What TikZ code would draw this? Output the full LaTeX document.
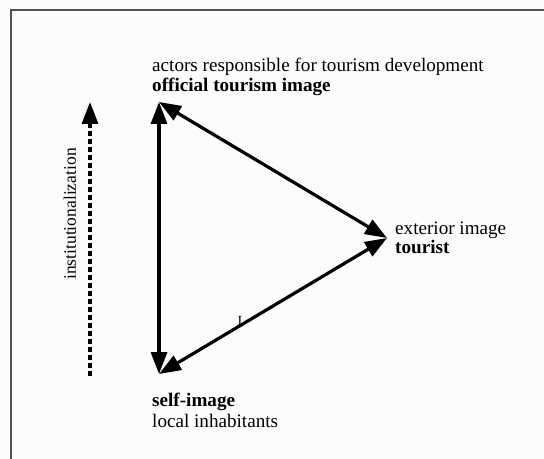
\documentclass[tikz,border=0pt]{standalone}
\usepackage{fontspec}
\setmainfont{Liberation Serif}
\usetikzlibrary{arrows.meta}
\definecolor{bgc}{HTML}{FCFCFC}
\definecolor{framec}{HTML}{505050}
\tikzset{
  tip/.tip={Triangle[length=22bp,width=16bp]},
  edge/.style={line width=3.2bp, tip-tip},
  lbl/.style={anchor=base west, inner sep=0pt, font=\fontsize{19.2}{22}\selectfont},
  blbl/.style={lbl, font=\fontsize{19.2}{22}\selectfont\bfseries},
}
\begin{document}
\begin{tikzpicture}[x=1bp,y=-1bp]
\fill[bgc] (0,0) rectangle (544,459);
\useasboundingbox (0,0) rectangle (544,459);
\draw[framec, line width=1.3bp] (11,459) -- (11,10) -- (544,10);
\coordinate (T) at (159,102);
\coordinate (B) at (159,374);
\coordinate (R) at (387,238);
\draw[edge] (T) -- (B);
\draw[edge] (T) -- (R);
\draw[edge] (B) -- (R);
\coordinate (Ds) at (90,376);
\coordinate (De) at (90,102);
\draw[line width=3.2bp, dash pattern=on 5bp off 3bp, -tip] (Ds) -- (De);
\node[lbl] (actors) at (152,72) {actors responsible for tourism development};
\node[blbl] (official) at (152,92) {official tourism image};
\node[lbl] (ext) at (395,235) {exterior image};
\node[blbl] (tour) at (395,254) {tourist};
\node[blbl] (self) at (152,406) {self-image};
\node[lbl] (local) at (152,427) {local inhabitants};
\node[rotate=90, inner sep=0pt, font=\fontsize{17.6}{21}\selectfont] (inst) at (70,214) {institutionalization};
\node[inner sep=0pt, font=\fontsize{14}{16}\selectfont] (tick) at (240,321) {I};
\end{tikzpicture}
\end{document}
